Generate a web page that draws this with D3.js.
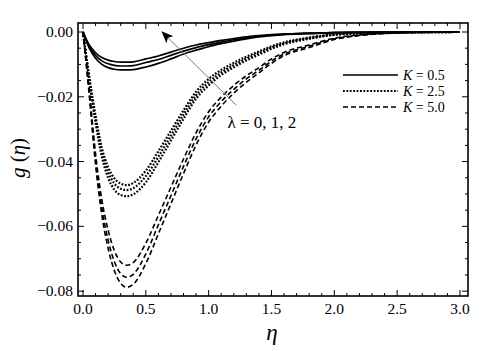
<!DOCTYPE html>
<html><head><meta charset="utf-8">
<script src="https://cdn.jsdelivr.net/npm/d3@7"></script>
<style>body{margin:0;background:#fff} svg text{font-family:"Liberation Serif","Times New Roman",Times,serif;}</style>
</head><body>
<svg id="c" width="483" height="351"></svg>
<script>
const eta = [0,0.05,0.1,0.15,0.2,0.25,0.3,0.35,0.4,0.5,0.6,0.7,0.8,0.9,1.0,1.1,1.2,1.3,1.4,1.5,1.6,1.8,2.0,2.2,2.5,3.0];
// K = 0.5 (solid), lambda = 0,1,2
const solid0 = [0,-0.0050,-0.0081,-0.0100,-0.0110,-0.0115,-0.0117,-0.0117,-0.0116,-0.0108,-0.0097,-0.0083,-0.0068,-0.0056,-0.0045,-0.0036,-0.0028,-0.0021,-0.0015,-0.0011,-0.0008,-0.0005,-0.0002,-0.0001,-0.00005,0];
const solid1 = [0,-0.0045,-0.0072,-0.0089,-0.0098,-0.0103,-0.0105,-0.0105,-0.0104,-0.0094,-0.0085,-0.0072,-0.0059,-0.0048,-0.0039,-0.0031,-0.0024,-0.0018,-0.0013,-0.0010,-0.0007,-0.0004,-0.0002,-0.0001,-0.00005,0];
const solid2 = [0,-0.0040,-0.0064,-0.0079,-0.0087,-0.0091,-0.0093,-0.0093,-0.0092,-0.0083,-0.0074,-0.0062,-0.0050,-0.0040,-0.0033,-0.0026,-0.0020,-0.0015,-0.0011,-0.0008,-0.0006,-0.0003,-0.0002,-0.0001,-0.00004,0];
// K = 2.5 (dotted)
const dot0 = [0,-0.0150,-0.0280,-0.0385,-0.0450,-0.0487,-0.0503,-0.0507,-0.0501,-0.0464,-0.0402,-0.0335,-0.0268,-0.0206,-0.0165,-0.0133,-0.0109,-0.0088,-0.0070,-0.0052,-0.0038,-0.0021,-0.0009,-0.0004,-0.0001,0];
const dot1 = [0,-0.0144,-0.0269,-0.0370,-0.0432,-0.0468,-0.0484,-0.0488,-0.0482,-0.0445,-0.0385,-0.0320,-0.0255,-0.0195,-0.0155,-0.0125,-0.0102,-0.0082,-0.0065,-0.0048,-0.0035,-0.0019,-0.0008,-0.0004,-0.0001,0];
const dot2 = [0,-0.0139,-0.0259,-0.0357,-0.0417,-0.0452,-0.0468,-0.0473,-0.0466,-0.0428,-0.0368,-0.0305,-0.0242,-0.0184,-0.0145,-0.0117,-0.0095,-0.0076,-0.0060,-0.0044,-0.0032,-0.0017,-0.0007,-0.0003,-0.0001,0];
// K = 5.0 (dashed)
const dash0 = [0,-0.0195,-0.0410,-0.0565,-0.0668,-0.0737,-0.0776,-0.0788,-0.0779,-0.0715,-0.0623,-0.0530,-0.0437,-0.0349,-0.0278,-0.0229,-0.0189,-0.0155,-0.0126,-0.0097,-0.0073,-0.0048,-0.0023,-0.0011,-0.0003,0];
const dash1 = [0,-0.0188,-0.0395,-0.0544,-0.0643,-0.0709,-0.0746,-0.0757,-0.0748,-0.0685,-0.0595,-0.0505,-0.0415,-0.0330,-0.0262,-0.0215,-0.0177,-0.0145,-0.0118,-0.0090,-0.0068,-0.0044,-0.0021,-0.0010,-0.0003,0];
const dash2 = [0,-0.0179,-0.0376,-0.0518,-0.0612,-0.0675,-0.0710,-0.0720,-0.0712,-0.0652,-0.0566,-0.0479,-0.0392,-0.0311,-0.0246,-0.0201,-0.0165,-0.0135,-0.0110,-0.0083,-0.0063,-0.0040,-0.0019,-0.0009,-0.0003,0];

const xTicks = [0,0.5,1.0,1.5,2.0,2.5,3.0];
const xTickLabels = ["0.0","0.5","1.0","1.5","2.0","2.5","3.0"];
const yTicks = [0,-0.02,-0.04,-0.06,-0.08];
const yTickLabels = ["0.00","\u22120.02","\u22120.04","\u22120.06","\u22120.08"];
const legendLabels = ["0.5","2.5","5.0"];

const svg = d3.select("#c");
const L=78, R=468, T=23, B=296;
const x = d3.scaleLinear().domain([-0.0398,3.064]).range([L,R]);
const y = d3.scaleLinear().domain([0.00278,-0.0815]).range([T,B]);

const styles = [
  {dash:null, w:1.7},
  {dash:"1.8,1.6", w:2.2},
  {dash:"5,3", w:1.6}
];
const groups = [[solid0,solid1,solid2],[dot0,dot1,dot2],[dash0,dash1,dash2]];
const line = d3.line().x((d,i)=>x(eta[i])).y(d=>y(d)).curve(d3.curveMonotoneX);
const plot = svg.append("g");
groups.forEach((g,k)=>{
  g.forEach(s=>{
    plot.append("path").attr("d",line(s)).attr("fill","none").attr("stroke","#000")
      .attr("stroke-width",styles[k].w).attr("stroke-dasharray",styles[k].dash);
  });
});

// frame
svg.append("rect").attr("x",L).attr("y",T).attr("width",R-L).attr("height",B-T)
  .attr("fill","none").attr("stroke","#000").attr("stroke-width",1.6);

// ticks
const xMinor = d3.range(0,3.0001,0.1);
xMinor.forEach(v=>{
  const major = Math.abs(v*2-Math.round(v*2))<1e-6;
  const len = major?6:3;
  svg.append("line").attr("x1",x(v)).attr("x2",x(v)).attr("y1",B).attr("y2",B-len).attr("stroke","#000");
  svg.append("line").attr("x1",x(v)).attr("x2",x(v)).attr("y1",T).attr("y2",T+len).attr("stroke","#000");
});
const yMinor = d3.range(0,-0.08001,-0.005);
yMinor.forEach(v=>{
  const major = Math.abs(v/0.02-Math.round(v/0.02))<1e-6;
  const len = major?6:3;
  svg.append("line").attr("x1",L).attr("x2",L+len).attr("y1",y(v)).attr("y2",y(v)).attr("stroke","#000");
  svg.append("line").attr("x1",R).attr("x2",R-len).attr("y1",y(v)).attr("y2",y(v)).attr("stroke","#000");
});
xTicks.forEach((v,i)=>{
  svg.append("text").attr("x",x(v)).attr("y",B+18).attr("text-anchor","middle")
    .attr("font-size",15.5).text(xTickLabels[i]);
});
yTicks.forEach((v,i)=>{
  svg.append("text").attr("x",L-5).attr("y",y(v)+5).attr("text-anchor","end")
    .attr("font-size",15.5).text(yTickLabels[i]);
});

// axis labels
svg.append("text").attr("x",272).attr("y",340).attr("text-anchor","middle")
  .attr("font-size",23).attr("font-style","italic").text("\u03b7");
const yl = svg.append("text").attr("transform","translate(25,158) rotate(-90)").attr("text-anchor","middle")
  .attr("font-size",21);
yl.append("tspan").attr("font-style","italic").text("g");
yl.append("tspan").text(" (");
yl.append("tspan").attr("font-style","italic").text("\u03b7");
yl.append("tspan").text(")");

// legend
legendLabels.forEach((lab,i)=>{
  const ly = 75 + i*16;
  svg.append("line").attr("x1",343).attr("x2",398).attr("y1",ly).attr("y2",ly)
    .attr("stroke","#000").attr("stroke-width",styles[i].w).attr("stroke-dasharray",styles[i].dash);
  const t = svg.append("text").attr("x",403).attr("y",ly+4.5).attr("font-size",14);
  t.append("tspan").attr("font-style","italic").text("K");
  t.append("tspan").text(" = "+lab);
});

// arrow annotation
const defs = svg.append("defs");
defs.append("marker").attr("id","ah").attr("viewBox","0 0 12 10").attr("refX",11).attr("refY",5)
  .attr("markerWidth",12).attr("markerHeight",10).attr("markerUnits","userSpaceOnUse").attr("orient","auto")
  .append("path").attr("d","M0,0 L12,5 L0,10 L3,5 Z").attr("fill","#000");
svg.append("line").attr("x1",x(1.22)).attr("y1",y(-0.0226)).attr("x2",x(0.63)).attr("y2",y(0.0))
  .attr("stroke","#777").attr("stroke-width",1).attr("marker-end","url(#ah)");
svg.append("text").attr("x",x(1.15)).attr("y",y(-0.0296)).attr("font-size",17)
  .text("\u03bb = 0, 1, 2");
</script>
</body></html>
